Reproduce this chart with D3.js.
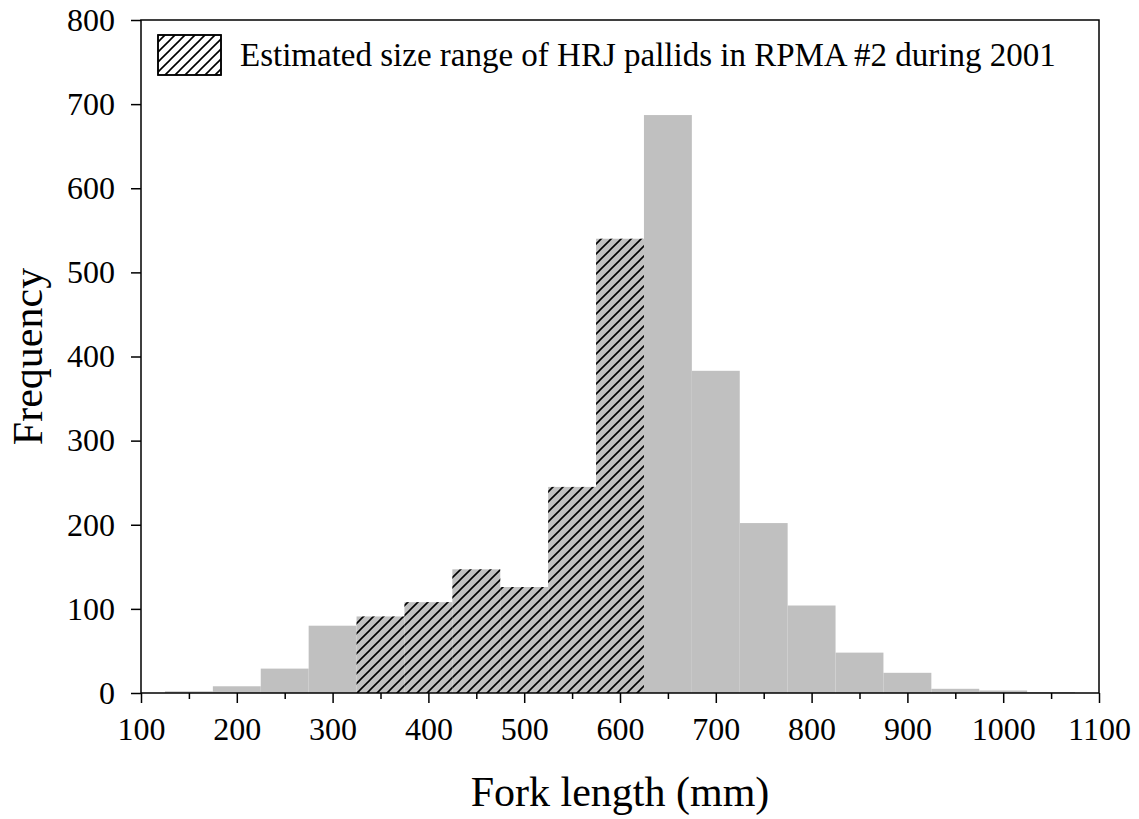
<!DOCTYPE html>
<html>
<head>
<meta charset="utf-8">
<script src="https://cdn.jsdelivr.net/npm/d3@7"></script>
<style>
  html, body { margin: 0; padding: 0; background: #fff; }
  svg text { font-family: "Liberation Serif", "Times New Roman", serif; fill: #000; }
</style>
</head>
<body>
<svg id="chart" width="1139" height="819"></svg>
<script>
// ---- data ----
const binStarts = [125,175,225,275,325,375,425,475,525,575,625,675,725,775,825,875,925,975,1025];
const binWidth = 50;
const frequencies = [2, 8, 29, 80, 91, 108, 147, 126, 245, 540, 687, 383, 202, 104, 48, 24, 5, 3, 1];
const hatchedRange = [325, 625];
const xTicks = [100,200,300,400,500,600,700,800,900,1000,1100];
const xMinorTicks = [150,250,350,450,550,650,750,850,950,1050];
const yTicks = [0,100,200,300,400,500,600,700,800];
const legendLabel = "Estimated size range of HRJ pallids in RPMA #2 during 2001";
const xTitle = "Fork length (mm)";
const yTitle = "Frequency";

const svg = d3.select("#chart");
const mLeft = 141, mRight = 1099, mTop = 20, mBottom = 693;

const x = d3.scaleLinear().domain([100, 1100]).range([mLeft, mRight]);
const y = d3.scaleLinear().domain([0, 800]).range([mBottom, mTop]);

// hatch pattern
const defs = svg.append("defs");
const pat = defs.append("pattern")
  .attr("id", "hatch").attr("patternUnits", "userSpaceOnUse")
  .attr("width", 10).attr("height", 10);
pat.append("path")
  .attr("d", "M0,10 L10,0 M-2.5,2.5 L2.5,-2.5 M7.5,12.5 L12.5,7.5")
  .attr("stroke", "#000").attr("stroke-width", 1.6);

const data = binStarts.map((s, i) => ({ x0: s, x1: s + binWidth, v: frequencies[i],
  hatched: s >= hatchedRange[0] && s < hatchedRange[1] }));

// bars
const bars = svg.append("g");
bars.selectAll("rect.bg").data(data).join("rect")
  .attr("class", "bg")
  .attr("x", d => x(d.x0)).attr("width", d => x(d.x1) - x(d.x0))
  .attr("y", d => y(d.v)).attr("height", d => y(0) - y(d.v))
  .attr("fill", "#c0c0c0");
bars.selectAll("rect.h").data(data.filter(d => d.hatched)).join("rect")
  .attr("class", "h")
  .attr("x", d => x(d.x0)).attr("width", d => x(d.x1) - x(d.x0))
  .attr("y", d => y(d.v)).attr("height", d => y(0) - y(d.v))
  .attr("fill", "url(#hatch)");

// frame
svg.append("rect").attr("x", mLeft).attr("y", mTop)
  .attr("width", mRight - mLeft).attr("height", mBottom - mTop)
  .attr("fill", "none").attr("stroke", "#000").attr("stroke-width", 1.5);

// y axis
const yAxis = svg.append("g").attr("transform", `translate(${mLeft},0)`)
  .call(d3.axisLeft(y).tickValues(yTicks).tickSize(10).tickPadding(16).tickFormat(d3.format("d")));
yAxis.select(".domain").remove();
yAxis.selectAll("line").attr("stroke", "#000").attr("stroke-width", 1.5);
yAxis.selectAll("text").style("font-size", "32px").style("font-family", "Liberation Serif, serif");

// x axis
const xAxis = svg.append("g").attr("transform", `translate(0,${mBottom})`)
  .call(d3.axisBottom(x).tickValues(xTicks).tickSize(10).tickPadding(14).tickFormat(d3.format("d")));
xAxis.select(".domain").remove();
xAxis.selectAll("line").attr("stroke", "#000").attr("stroke-width", 1.5);
xAxis.selectAll("text").style("font-size", "32px").style("font-family", "Liberation Serif, serif");
const xMinor = svg.append("g").attr("transform", `translate(0,${mBottom})`)
  .call(d3.axisBottom(x).tickValues(xMinorTicks).tickSize(6).tickFormat(""));
xMinor.select(".domain").remove();
xMinor.selectAll("line").attr("stroke", "#000").attr("stroke-width", 1.5);

// titles
svg.append("text").attr("x", 620).attr("y", 806)
  .attr("text-anchor", "middle").style("font-size", "42px").text(xTitle);
svg.append("text").attr("transform", `translate(42,${(mTop + mBottom) / 2}) rotate(-90)`)
  .attr("text-anchor", "middle").style("font-size", "42px").text(yTitle);

// legend
const lg = svg.append("g");
lg.append("rect").attr("x", 158).attr("y", 35).attr("width", 63).attr("height", 40)
  .attr("fill", "#fff").attr("stroke", "#000").attr("stroke-width", 1.5);
lg.append("rect").attr("x", 158).attr("y", 35).attr("width", 63).attr("height", 40)
  .attr("fill", "url(#hatch)").attr("stroke", "#000").attr("stroke-width", 1.5);
lg.append("text").attr("x", 240).attr("y", 66).style("font-size", "33px").text(legendLabel);
</script>
</body>
</html>
